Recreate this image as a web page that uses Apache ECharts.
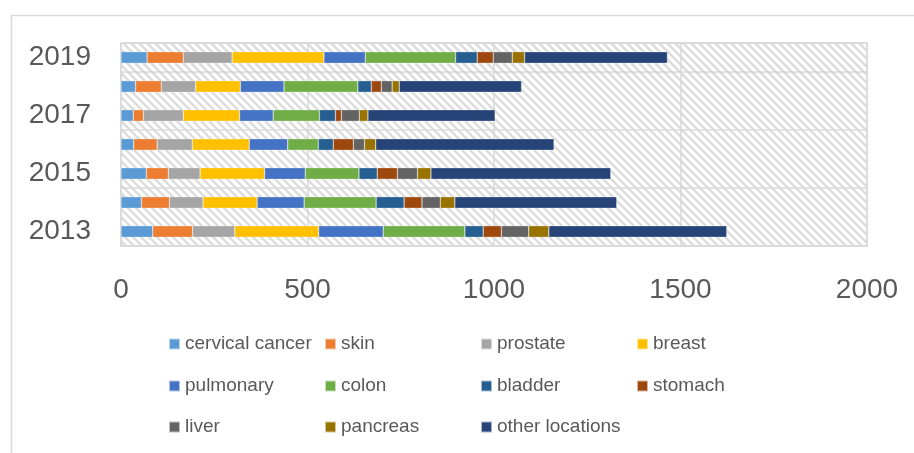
<!DOCTYPE html>
<html>
<head>
<meta charset="utf-8">
<script src="https://cdn.jsdelivr.net/npm/echarts@6/dist/echarts.min.js"></script>
<style>html,body{margin:0;padding:0;background:#fff;}#c{width:914px;height:453px;}</style>
</head>
<body>
<div id="c"></div>
<script>
var years = ['2013','2014','2015','2016','2017','2018','2019'];
var seriesNames = ['cervical cancer','skin','prostate','breast','pulmonary','colon','bladder','stomach','liver','pancreas','other locations'];
var cervical  = [85, 55, 68, 34, 33, 39, 70];
var skin      = [107, 75, 59, 63, 27, 69, 97];
var prostate  = [113, 90, 85, 94, 107, 92, 131];
var breast    = [225, 145, 173, 153, 151, 120, 246];
var pulmonary = [173, 126, 109, 103, 90, 117, 111];
var colon     = [219, 193, 144, 82, 124, 198, 242];
var bladder   = [49, 75, 49, 40, 43, 36, 58];
var stomach   = [49, 48, 54, 54, 16, 27, 43];
var liver     = [73, 49, 54, 30, 48, 29, 51];
var pancreas  = [54, 39, 36, 30, 23, 19, 33];
var other     = [477, 434, 482, 478, 341, 328, 383];
var xTicks = [0, 500, 1000, 1500, 2000];

var values = [cervical, skin, prostate, breast, pulmonary, colon, bladder, stomach, liver, pancreas, other];
var colors = ['#5B9BD5','#ED7D31','#A5A5A5','#FFC000','#4472C4','#70AD47','#255E91','#9E480E','#636363','#997300','#264478'];

// hatch pattern tile
var tile = document.createElement('canvas');
tile.width = 8; tile.height = 8;
var ctx = tile.getContext('2d');
ctx.fillStyle = '#ffffff';
ctx.fillRect(0,0,8,8);
ctx.strokeStyle = '#dcdcdc';
ctx.lineWidth = 2.4;
[-8,0,8].forEach(function(c){
  ctx.beginPath();
  ctx.moveTo(-2, -2 + c);
  ctx.lineTo(10, 10 + c);
  ctx.stroke();
});

var FONT = 'Liberation Sans';
var chart = echarts.init(document.getElementById('c'), null, {renderer:'canvas'});

var series = seriesNames.map(function(n, i){
  return {
    name: n, type: 'bar', stack: 'total', barWidth: '40%',
    itemStyle: {color: colors[i], borderColor: 'rgba(255,255,255,0.6)', borderWidth: 0.5},
    data: values[i]
  };
});

function legendRow(names, top){
  return {
    data: names, left: 168, top: top, orient: 'horizontal', padding: 0,
    itemWidth: 11, itemHeight: 11, itemGap: 5, icon: 'rect',
    textStyle: {fontFamily: FONT, fontSize: 19, color: '#595959', width: 134, lineHeight: 22}
  };
}

chart.setOption({
  animation: false,
  backgroundColor: '#fff',
  color: colors,
  graphic: [{
    type: 'rect', left: 9, top: 13, z: -10,
    shape: {width: 930, height: 460},
    style: {fill: 'none', stroke: '#d9d9d9', lineWidth: 1.5}
  }],
  grid: {
    left: 121, top: 43, right: 47, bottom: 207,
    show: true, borderColor: '#d9d9d9', borderWidth: 1.5,
    backgroundColor: {image: tile, repeat: 'repeat'},
    containLabel: false
  },
  legend: [
    legendRow(seriesNames.slice(0,4), 333),
    legendRow(seriesNames.slice(4,8), 375),
    legendRow(seriesNames.slice(8,11), 416)
  ],
  xAxis: {
    type: 'value', min: xTicks[0], max: xTicks[xTicks.length-1], interval: 500,
    axisLine: {show: false}, axisTick: {show: false},
    splitLine: {show: true, lineStyle: {color: '#d9d9d9', width: 1.5}},
    axisLabel: {fontFamily: FONT, fontSize: 28, color: '#595959', margin: 30,
      formatter: function(v){ return String(v); }}
  },
  yAxis: {
    type: 'category', data: years,
    axisLine: {show: false}, axisTick: {show: false},
    splitLine: {show: true, lineStyle: {color: '#d9d9d9', width: 1.5}},
    axisLabel: {fontFamily: FONT, fontSize: 28, color: '#595959', margin: 30, interval: 1}
  },
  series: series
});
</script>
</body>
</html>
